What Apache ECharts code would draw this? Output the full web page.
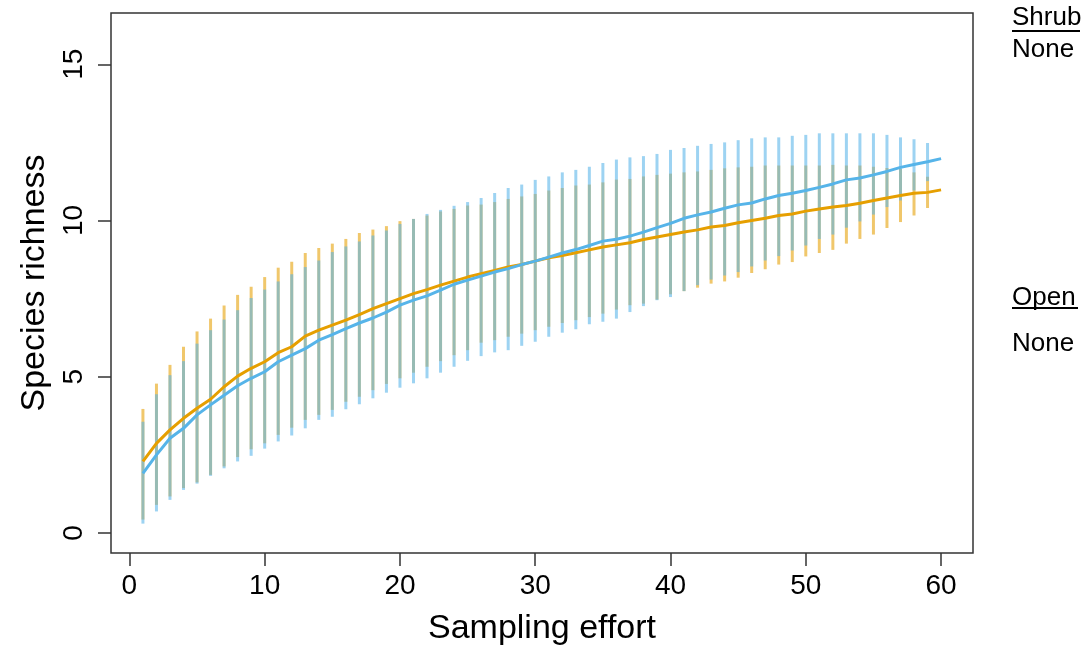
<!DOCTYPE html>
<html>
<head>
<meta charset="utf-8">
<script src="https://cdn.jsdelivr.net/npm/echarts@6/dist/echarts.min.js"></script>
<style>
html,body{margin:0;padding:0;background:#fff;}
#chart{width:1087px;height:647px;}
</style>
</head>
<body>
<div id="chart"></div>
<script>
// Sampling effort (x)
const effort = [1,2,3,4,5,6,7,8,9,10,11,12,13,14,15,16,17,18,19,20,21,22,23,24,25,26,27,28,29,30,
  31,32,33,34,35,36,37,38,39,40,41,42,43,44,45,46,47,48,49,50,51,52,53,54,55,56,57,58,59,60];
// Error bars are drawn at efforts 1..59
const barEffort = [1,2,3,4,5,6,7,8,9,10,11,12,13,14,15,16,17,18,19,20,21,22,23,24,25,26,27,28,29,30,
  31,32,33,34,35,36,37,38,39,40,41,42,43,44,45,46,47,48,49,50,51,52,53,54,55,56,57,58,59];

// Orange curve
const orangeMean = [2.29,2.87,3.30,3.67,3.99,4.28,4.68,5.02,5.27,5.48,
  5.77,5.96,6.30,6.49,6.65,6.81,6.99,7.18,7.34,7.50,
  7.66,7.79,7.93,8.06,8.19,8.30,8.40,8.51,8.59,8.70,
  8.81,8.88,8.97,9.06,9.15,9.22,9.29,9.39,9.47,9.55,
  9.63,9.70,9.79,9.84,9.93,10.00,10.07,10.16,10.21,10.30,
  10.37,10.43,10.48,10.55,10.64,10.72,10.80,10.87,10.90,10.98];
const orangeUpper = [3.97,4.78,5.38,5.96,6.45,6.86,7.28,7.62,7.88,8.19,
  8.49,8.68,8.96,9.12,9.26,9.41,9.60,9.71,9.82,9.98,
  10.05,10.16,10.29,10.37,10.48,10.51,10.59,10.69,10.77,10.85,
  10.96,11.04,11.12,11.15,11.22,11.31,11.33,11.41,11.46,11.50,
  11.54,11.57,11.62,11.67,11.70,11.72,11.76,11.76,11.76,11.76,
  11.76,11.78,11.76,11.76,11.72,11.68,11.65,11.54,11.40];
const orangeLower = [0.43,0.90,1.17,1.44,1.62,1.86,2.13,2.43,2.68,2.87,
  3.14,3.37,3.62,3.78,3.94,4.20,4.36,4.57,4.77,4.95,
  5.13,5.32,5.50,5.69,5.85,6.09,6.17,6.28,6.38,6.49,
  6.60,6.72,6.81,6.91,7.02,7.15,7.29,7.34,7.47,7.64,
  7.74,7.85,7.98,8.05,8.17,8.32,8.44,8.59,8.67,8.85,
  8.96,9.06,9.26,9.41,9.55,9.76,9.95,10.16,10.40];

// Blue curve
const blueMean = [1.91,2.50,3.03,3.35,3.78,4.10,4.41,4.71,4.95,5.16,
  5.48,5.69,5.90,6.17,6.35,6.54,6.72,6.88,7.07,7.29,
  7.45,7.59,7.77,7.96,8.09,8.22,8.35,8.46,8.59,8.70,
  8.83,8.96,9.07,9.20,9.34,9.40,9.50,9.63,9.77,9.91,
  10.07,10.18,10.27,10.39,10.50,10.56,10.69,10.80,10.87,10.96,
  11.06,11.17,11.30,11.36,11.46,11.57,11.70,11.79,11.88,11.98];
const blueUpper = [3.56,4.44,5.05,5.50,6.06,6.49,6.83,7.13,7.52,7.79,
  8.05,8.28,8.51,8.72,8.99,9.17,9.33,9.52,9.68,9.89,
  10.05,10.21,10.34,10.47,10.59,10.72,10.88,11.04,11.15,11.30,
  11.41,11.54,11.62,11.72,11.84,11.95,12.02,12.06,12.13,12.26,
  12.32,12.39,12.45,12.50,12.57,12.63,12.66,12.66,12.71,12.74,
  12.79,12.79,12.79,12.79,12.79,12.74,12.66,12.60,12.48];
const blueLower = [0.30,0.69,1.06,1.38,1.58,1.83,2.07,2.29,2.47,2.70,
  2.93,3.12,3.35,3.62,3.72,3.96,4.12,4.31,4.49,4.65,
  4.79,4.95,5.13,5.32,5.51,5.66,5.78,5.85,5.99,6.12,
  6.28,6.41,6.52,6.68,6.76,6.86,7.07,7.26,7.45,7.55,
  7.74,7.93,8.11,8.24,8.35,8.53,8.72,8.86,9.04,9.20,
  9.41,9.55,9.77,9.97,10.19,10.43,10.64,10.96,11.26];

const xTicks = [0,10,20,30,40,50,60];
const yTicks = [0,5,10,15];
const legendTitles = ['Shrub','Open'];
const legendValues = ['None','None'];

const FONT = '"Liberation Sans", Arial, Helvetica, sans-serif';
const ORANGE = '#E69F00';
const BLUE = '#56B4E9';

function barSeries(lower, upper, color) {
  return {
    type: 'custom',
    silent: true,
    z: 2,
    encode: {x: 0, y: [1, 2]},
    data: barEffort.map((x, i) => [x, lower[i], upper[i]]),
    renderItem: function (params, api) {
      const p1 = api.coord([api.value(0), api.value(1)]);
      const p2 = api.coord([api.value(0), api.value(2)]);
      return {
        type: 'line',
        shape: {x1: p1[0], y1: p1[1], x2: p2[0], y2: p2[1]},
        style: {stroke: color, lineWidth: 3, opacity: 0.58}
      };
    }
  };
}

function lineSeries(mean, color, z) {
  return {
    type: 'line',
    silent: true,
    z: z,
    symbol: 'none',
    lineStyle: {color: color, width: 3},
    data: effort.map((x, i) => [x, mean[i]])
  };
}

const chart = echarts.init(document.getElementById('chart'), null, {renderer: 'canvas'});
chart.setOption({
  animation: false,
  backgroundColor: '#fff',
  grid: {left: 111, right: 114, top: 13, bottom: 94, show: true, containLabel: false,
         outerBoundsMode: 'none',
         borderColor: '#333', borderWidth: 1.5, backgroundColor: 'transparent'},
  xAxis: {
    type: 'value', min: -1.36, max: 62.36,
    name: 'Sampling effort', nameLocation: 'middle', nameGap: 59,
    nameTextStyle: {fontFamily: FONT, fontSize: 34, color: '#000'},
    axisLine: {show: false, onZero: false},
    splitLine: {show: false},
    axisTick: {show: true, length: 13, customValues: xTicks, lineStyle: {color: '#333', width: 1.5}},
    axisLabel: {customValues: xTicks, fontFamily: FONT, fontSize: 28, color: '#000', margin: 19}
  },
  yAxis: {
    type: 'value', min: -0.64, max: 16.64,
    name: 'Species richness', nameLocation: 'middle', nameGap: 56, nameRotate: 90,
    nameTextStyle: {fontFamily: FONT, fontSize: 34, color: '#000'},
    axisLine: {show: false, onZero: false},
    splitLine: {show: false},
    axisTick: {show: true, length: 13, customValues: yTicks, lineStyle: {color: '#333', width: 1.5}},
    axisLabel: {customValues: yTicks, rotate: 90, fontFamily: FONT, fontSize: 28, color: '#000', margin: 23}
  },
  graphic: [
    {type: 'text', left: 1012, top: 5, style: {text: legendTitles[0], font: '26px ' + FONT, fill: '#000'}},
    {type: 'rect', shape: {x: 1012, y: 30, width: 68, height: 2}, style: {fill: '#000'}},
    {type: 'text', left: 1012, top: 37, style: {text: legendValues[0], font: '26px ' + FONT, fill: '#000'}},
    {type: 'text', left: 1012, top: 285, style: {text: legendTitles[1], font: '26px ' + FONT, fill: '#000'}},
    {type: 'rect', shape: {x: 1012, y: 307, width: 66, height: 2}, style: {fill: '#000'}},
    {type: 'text', left: 1012, top: 331, style: {text: legendValues[1], font: '26px ' + FONT, fill: '#000'}}
  ],
  series: [
    barSeries(orangeLower, orangeUpper, ORANGE),
    barSeries(blueLower, blueUpper, BLUE),
    lineSeries(orangeMean, ORANGE, 3),
    lineSeries(blueMean, BLUE, 4)
  ]
});
</script>
</body>
</html>
